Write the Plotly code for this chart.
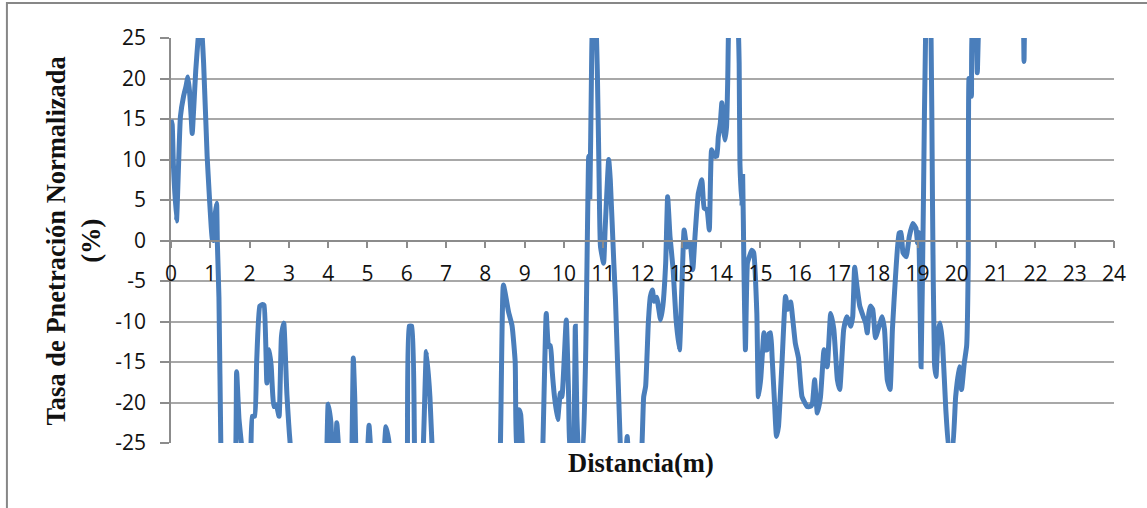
import plotly.graph_objects as go

# Distance (m) and normalized penetration rate (%).
# Values outside [-25, 25] are off-scale in the original (line leaves the plot area).
distancia = [
    0.00, 0.03, 0.06, 0.14, 0.19, 0.24, 0.32, 0.38, 0.43, 0.47, 0.51, 0.54, 0.58, 0.63, 0.70, 0.74, 0.78,
    0.83, 0.92, 0.97, 1.00, 1.05, 1.08, 1.12, 1.16, 1.18, 1.22, 1.27, 1.30,
    1.45, 1.62, 1.67, 1.73, 1.81, 1.90, 2.02, 2.07, 2.13, 2.18, 2.26, 2.33, 2.37, 2.44, 2.50, 2.55, 2.62,
    2.68, 2.75, 2.81, 2.87, 2.95, 3.05, 3.20,
    3.90, 3.96, 4.00, 4.07, 4.12, 4.17, 4.22, 4.27, 4.35,
    4.55, 4.60, 4.64, 4.68, 4.72, 4.85,
    4.98, 5.04, 5.10, 5.25,
    5.40, 5.47, 5.55, 5.62, 5.90,
    6.01, 6.06, 6.13, 6.20, 6.28,
    6.40, 6.50, 6.59, 6.65, 6.75,
    8.30, 8.38, 8.46, 8.59, 8.68, 8.76, 8.80, 8.83, 8.86, 8.90, 8.95, 9.05,
    9.40, 9.46, 9.55, 9.61, 9.66, 9.70, 9.76, 9.84, 9.91, 9.95, 10.06, 10.12, 10.16, 10.22, 10.29, 10.33,
    10.38, 10.42, 10.47, 10.55, 10.63, 10.66, 10.70, 10.73, 10.80, 10.85, 10.89, 10.93, 11.01, 11.05,
    11.14, 11.18, 11.27, 11.31, 11.44, 11.50,
    11.57, 11.61, 11.65, 11.80,
    11.97, 12.03, 12.08, 12.15, 12.20, 12.25, 12.30, 12.36, 12.46, 12.52, 12.59, 12.64, 12.70, 12.78,
    12.85, 12.94, 13.00, 13.06, 13.13, 13.21, 13.28, 13.34, 13.42, 13.51, 13.57, 13.64, 13.70, 13.76,
    13.83, 13.89, 13.93, 13.98, 14.02, 14.07, 14.10, 14.14, 14.17, 14.20, 14.30, 14.42, 14.46, 14.48,
    14.53, 14.55, 14.58, 14.62, 14.67, 14.72, 14.78, 14.83, 14.91, 14.95,
    15.01, 15.09, 15.13, 15.17, 15.22, 15.26, 15.30, 15.36, 15.41, 15.46, 15.55, 15.64, 15.70, 15.77,
    15.83, 15.89, 15.97, 16.06, 16.19, 16.26, 16.32, 16.38, 16.45, 16.53, 16.62, 16.70, 16.79, 16.87,
    16.96, 17.02, 17.12, 17.20, 17.30, 17.35, 17.40, 17.46, 17.53, 17.62, 17.68, 17.72, 17.76, 17.80,
    17.86, 17.93, 18.02, 18.10, 18.16, 18.23, 18.30, 18.36, 18.44, 18.53, 18.58, 18.63, 18.71, 18.79,
    18.88, 18.96, 19.00, 19.03, 19.09, 19.15, 19.21, 19.28, 19.34, 19.38, 19.43, 19.47, 19.53, 19.58,
    19.64, 19.72, 19.81, 19.88, 19.97, 20.06, 20.12, 20.19, 20.25, 20.29, 20.31, 20.37, 20.40, 20.46,
    20.52, 20.56, 20.70, 21.50, 21.69, 21.71, 21.73, 21.90, 22.50,
]
tasa = [
    14.9, 14.3, 9.5, 2.4, 9.0, 15.3, 17.8, 19.0, 20.2, 18.5, 15.5, 13.2, 16.5, 21.0, 25.5, 27.0, 26.0,
    21.9, 10.4, 6.0, 3.5, 0.2, 0.0, 3.0, 4.6, -0.3, -7.0, -26.0, -32.0,
    -32.0, -30.0, -16.2, -22.0, -26.0, -32.0, -28.0, -21.7, -21.7, -15.0, -8.1, -7.9, -8.0, -17.6, -13.5, -15.5, -20.5,
    -20.3, -21.7, -11.9, -10.2, -19.0, -26.0, -32.0,
    -32.0, -27.0, -20.2, -22.5, -27.0, -27.0, -22.5, -26.0, -32.0,
    -32.0, -27.0, -14.5, -20.0, -28.0, -32.0,
    -28.0, -22.8, -27.0, -32.0,
    -28.0, -23.0, -25.0, -30.0, -32.0,
    -28.0, -10.6, -10.6, -26.0, -32.0,
    -28.0, -13.7, -19.3, -26.0, -32.0,
    -32.0, -26.0, -5.5, -8.8, -10.5, -15.0, -26.0, -26.0, -20.9, -21.5, -26.0, -32.0,
    -32.0, -26.0, -9.0, -13.1, -13.0, -16.0, -19.3, -22.1, -18.8, -19.3, -9.8, -19.3, -26.0, -26.0, -10.6, -21.7,
    -27.0, -26.0, -26.0, -15.0, 10.4, 5.4, 20.0, 27.0, 28.0, 21.0, 9.5, -0.7, -2.8, 1.5,
    10.0, 7.5, -2.8, -7.0, -26.0, -32.0,
    -27.0, -24.2, -27.0, -32.0,
    -27.0, -19.3, -18.0, -10.0, -6.9, -6.1, -7.5, -7.0, -9.8, -8.0, -2.8, 5.4, 0.5, -3.6,
    -9.5, -13.5, -6.1, 1.3, -0.8, -0.3, -3.6, 0.8, 5.8, 7.5, 4.0, 3.8, 1.3, 11.2,
    10.4, 10.4, 12.8, 14.5, 17.0, 13.5, 12.4, 14.1, 20.0, 28.0, 32.0, 28.0, 21.9, 9.5,
    4.2, 7.9, -2.8, -13.5, -2.8, -2.0, -1.2, -1.5, -9.0, -19.3,
    -17.0, -11.4, -13.5, -13.5, -11.5, -11.4, -14.5, -20.0, -24.2, -23.0, -15.1, -6.9, -8.5, -7.6,
    -10.0, -12.7, -14.5, -19.3, -20.5, -20.5, -20.2, -17.2, -21.3, -19.3, -13.5, -15.6, -9.0, -11.0,
    -17.2, -18.4, -11.0, -9.4, -10.6, -9.4, -3.3, -5.7, -8.1, -9.4, -10.2, -11.4, -9.0, -8.1,
    -8.5, -12.0, -10.6, -9.4, -11.0, -17.2, -18.4, -11.0, -4.4, 0.9, 1.0, -1.5, -2.0, 0.5,
    2.1, 1.5, -0.3, 1.0, -15.6, 5.0, 27.0, 32.0, 27.0, 5.0, -15.1, -16.8, -11.0, -10.2,
    -13.0, -20.9, -26.0, -26.0, -19.3, -15.6, -18.4, -15.1, -13.0, -2.8, 20.0, 17.8, 27.0, 27.0,
    20.7, 27.0, 32.0, 32.0, 27.0, 22.1, 27.0, 32.0, 32.0,
]

x_ticks = list(range(0, 25))
y_ticks = list(range(-25, 30, 5))

fig = go.Figure()
fig.add_trace(go.Scatter(
    x=distancia, y=tasa, mode="lines",
    line=dict(color="#4A7EBB", width=5, shape="spline", smoothing=0.4),
    showlegend=False, hoverinfo="x+y",
))

grid_col = "#A8A8A8"
axis_col = "#8C8C8C"
tick_font = dict(family="Open Sans", size=21, color="#111111")
title_font = dict(family="Liberation Serif", size=26.5, color="#111111")

fig.update_layout(
    width=1147, height=508,
    margin=dict(l=171, r=33, t=38, b=65),
    paper_bgcolor="white", plot_bgcolor="white",
    xaxis=dict(
        range=[0, 24], tickvals=x_ticks, ticktext=[str(v) for v in x_ticks],
        anchor="free", position=0.5,
        showline=True, linecolor=axis_col, linewidth=1.5,
        ticks="outside", ticklen=7, tickcolor=axis_col, tickwidth=1.5,
        showgrid=False, zeroline=False,
        tickfont=tick_font, ticklabelstandoff=8,
    ),
    yaxis=dict(
        range=[-25, 25], tickvals=y_ticks, ticktext=[str(v) for v in y_ticks],
        showline=True, linecolor=axis_col, linewidth=1.5,
        ticks="outside", ticklen=9, tickcolor=axis_col, tickwidth=1.5,
        showgrid=True, gridcolor=grid_col, gridwidth=1.5,
        zeroline=False,
        tickfont=tick_font, ticklabelstandoff=10,
    ),
    annotations=[
        dict(text="<b>Distancia(m)</b>", xref="paper", yref="paper", x=0.498, y=-0.0486,
             xanchor="center", yanchor="middle", showarrow=False,
             font=title_font),
        dict(text="<b>Tasa de Pnetración Normalizada</b><br><b>(%)</b>", xref="paper", yref="paper",
             x=-0.104, y=0.5, xanchor="center", yanchor="middle", showarrow=False,
             textangle=-90, font=title_font),
    ],
    shapes=[
        dict(type="rect", xref="paper", yref="paper",
             x0=-0.174, x1=1.2, y0=-0.3, y1=1.0864,
             line=dict(color="#878787", width=2), fillcolor="rgba(0,0,0,0)", layer="below"),
    ],
)

fig.write_html("out.html")
